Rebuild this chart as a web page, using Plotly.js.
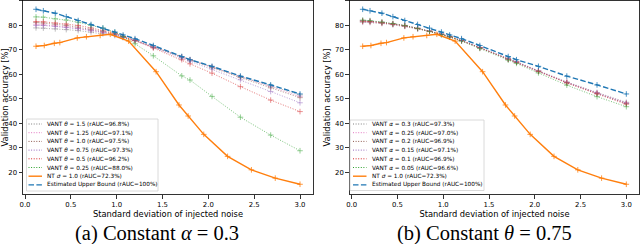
<!DOCTYPE html>
<html>
<head>
<meta charset="utf-8">
<script src="https://cdn.plot.ly/plotly-3.0.1.min.js"></script>
<style>html,body{margin:0;padding:0;background:#fff;}#chart{width:640px;height:244px;}</style>
</head>
<body>
<div id="chart"></div>
<script>
// ---------------- data ----------------
const xTicks = [0.0, 0.5, 1.0, 1.5, 2.0, 2.5, 3.0];
const xTickText = ['0.0', '0.5', '1.0', '1.5', '2.0', '2.5', '3.0'];
const yTicks = [20, 30, 40, 50, 60, 70, 80, 90];

const xVant = [0.12, 0.2, 0.33, 0.45, 0.58, 0.72, 0.85, 0.98, 1.07, 1.2, 1.4, 1.71, 1.8, 2.04, 2.35, 2.68, 3.0];
const xNT = [0.12, 0.21, 0.32, 0.38, 0.57, 0.67, 0.82, 0.93, 1.13, 1.43, 1.68, 1.78, 1.95, 2.21, 2.47, 2.73, 3.0];

const upperBound = [86.6, 86.0, 85.0, 83.6, 82.0, 80.4, 78.9, 77.3, 76.1, 74.6, 71.8, 67.3, 66.0, 63.3, 59.3, 55.7, 52.0];
const ntSigma1 = [71.5, 71.8, 72.7, 73.0, 74.9, 75.4, 75.9, 76.4, 73.6, 61.1, 47.5, 43.0, 35.5, 26.5, 21.0, 17.6, 15.1];

// (a) constant alpha = 0.3, varying theta
const theta150 = [79.0, 78.9, 78.6, 78.3, 77.9, 77.3, 76.6, 75.9, 75.0, 73.8, 71.2, 67.2, 66.0, 63.1, 59.1, 55.3, 51.6];
const theta125 = [80.5, 80.3, 79.9, 79.4, 78.8, 78.0, 77.2, 76.3, 75.3, 74.0, 71.3, 67.1, 66.0, 63.0, 59.0, 55.0, 51.0];
const theta100 = [81.2, 81.0, 80.5, 80.0, 79.3, 78.4, 77.5, 76.5, 75.4, 74.0, 71.2, 67.0, 65.8, 62.8, 58.7, 54.5, 50.5];
const theta075 = [80.0, 80.0, 79.6, 79.2, 78.7, 78.0, 77.2, 76.2, 75.2, 73.8, 71.0, 66.6, 65.4, 62.2, 57.8, 53.0, 48.4];
const theta050 = [81.6, 81.5, 81.0, 80.6, 80.0, 79.0, 78.0, 76.8, 75.5, 73.8, 70.8, 66.0, 64.3, 60.5, 55.0, 49.5, 44.8];
const theta025 = [83.5, 83.4, 82.7, 82.2, 81.3, 80.0, 78.9, 77.2, 75.5, 72.5, 67.6, 59.4, 57.7, 51.0, 42.5, 35.2, 28.8];

// (b) constant theta = 0.75, varying alpha
const alpha030 = [81.3, 81.2, 80.8, 80.3, 79.6, 78.6, 77.5, 76.3, 75.3, 73.8, 71.0, 66.4, 65.2, 61.5, 56.9, 52.6, 48.6];
const alpha025 = [81.5, 81.4, 81.0, 80.4, 79.7, 78.7, 77.6, 76.4, 75.3, 73.8, 70.9, 66.3, 65.1, 61.4, 56.8, 52.5, 48.4];
const alpha020 = [81.8, 81.7, 81.2, 80.6, 79.8, 78.8, 77.7, 76.4, 75.4, 73.8, 70.9, 66.3, 65.0, 61.3, 56.6, 52.2, 48.1];
const alpha015 = [82.0, 81.8, 81.3, 80.7, 80.0, 78.9, 77.8, 76.5, 75.5, 73.9, 71.0, 66.3, 65.1, 61.3, 56.7, 52.3, 48.2];
const alpha010 = [81.8, 81.6, 81.1, 80.6, 79.9, 78.8, 77.7, 76.4, 75.4, 73.8, 70.9, 66.2, 65.0, 61.2, 56.5, 52.0, 47.8];
const alpha005 = [82.2, 82.0, 81.4, 80.8, 80.0, 78.8, 77.6, 76.2, 75.3, 73.6, 70.6, 65.8, 64.5, 60.6, 55.6, 50.9, 46.8];

const thetaLabels = ['VANT <i>θ</i> = 1.5 (rAUC=96.8%)', 'VANT <i>θ</i> = 1.25 (rAUC=97.1%)', 'VANT <i>θ</i> = 1.0 (rAUC=97.5%)',
  'VANT <i>θ</i> = 0.75 (rAUC=97.3%)', 'VANT <i>θ</i> = 0.5 (rAUC=96.2%)', 'VANT <i>θ</i> = 0.25 (rAUC=88.0%)'];
const alphaLabels = ['VANT <i>α</i> = 0.3 (rAUC=97.3%)', 'VANT <i>α</i> = 0.25 (rAUC=97.0%)', 'VANT <i>α</i> = 0.2 (rAUC=96.9%)',
  'VANT <i>α</i> = 0.15 (rAUC=97.1%)', 'VANT <i>α</i> = 0.1 (rAUC=96.9%)', 'VANT <i>α</i> = 0.05 (rAUC=96.6%)'];
const ntLabel = 'NT <i>σ</i> = 1.0 (rAUC=72.3%)';
const ubLabel = 'Estimated Upper Bound (rAUC=100%)';

// ---------------- styling ----------------
const vantColors = ['#7f7f7f', '#e377c2', '#8c564b', '#9467bd', '#d62728', '#2ca02c'];
const ntColor = '#ff7f0e';
const ubColor = '#1f77b4';
const DOT = '1px,1.6px';
const DASH = '5.5px,2.4px';
const W = 640, H = 244;
const px = v => v / W;
const py = v => 1 - v / H;

const panels = [
  {xa: 'x', ya: 'y', vant: [theta150, theta125, theta100, theta075, theta050, theta025], labels: thetaLabels,
   legBox: [26.5, 119, 158, 191], sample: [28.5, 42], textX: 45},
  {xa: 'x2', ya: 'y2', vant: [alpha030, alpha025, alpha020, alpha015, alpha010, alpha005], labels: alphaLabels,
   legBox: [350, 120, 484, 190.5], sample: [353, 366.5], textX: 370}
];

const traces = [];
const shapes = [];
const annotations = [];

panels.forEach(p => {
  p.vant.forEach((ys, i) => {
    traces.push({x: xVant, y: ys, xaxis: p.xa, yaxis: p.ya, type: 'scatter', mode: 'lines+markers',
      opacity: 0.7, showlegend: false,
      line: {color: vantColors[i], width: 0.9, dash: DOT},
      marker: {symbol: 'cross-thin', size: 4, line: {width: 0.7, color: vantColors[i]}, color: vantColors[i]}});
  });
  traces.push({x: xNT, y: ntSigma1, xaxis: p.xa, yaxis: p.ya, type: 'scatter', mode: 'lines+markers', showlegend: false,
    line: {color: ntColor, width: 1.4},
    marker: {symbol: 'cross-thin', size: 4, line: {width: 0.8, color: ntColor}, color: ntColor}});
  traces.push({x: xVant, y: upperBound, xaxis: p.xa, yaxis: p.ya, type: 'scatter', mode: 'lines+markers', showlegend: false,
    line: {color: ubColor, width: 1.4, dash: DASH},
    marker: {symbol: 'cross-thin', size: 4, line: {width: 0.8, color: ubColor}, color: ubColor}});

  // manual compact legend
  const b = p.legBox;
  shapes.push({type: 'rect', xref: 'paper', yref: 'paper', x0: px(b[0]), x1: px(b[2]), y0: py(b[3]), y1: py(b[1]),
    line: {color: '#d0d0d0', width: 0.8}, fillcolor: 'rgba(255,255,255,0.85)', layer: 'above'});
  const entries = p.labels.map((t, i) => ({text: t, color: vantColors[i], width: 1, dash: DOT}))
    .concat([{text: ntLabel, color: ntColor, width: 1.4, dash: 'solid'},
             {text: ubLabel, color: ubColor, width: 1.4, dash: DASH}]);
  entries.forEach((e, i) => {
    const yc = 124 + i * 8.7;
    shapes.push({type: 'line', xref: 'paper', yref: 'paper', x0: px(p.sample[0]), x1: px(p.sample[1]), y0: py(yc), y1: py(yc),
      line: {color: e.color, width: e.width, dash: e.dash}, layer: 'above'});
    annotations.push({xref: 'paper', yref: 'paper', x: px(p.textX), y: py(yc), xanchor: 'left', yanchor: 'middle',
      text: e.text, showarrow: false, font: {family: 'DejaVu Sans', size: 5.75, color: '#000'}});
  });
});

annotations.push({xref: 'paper', yref: 'paper', x: px(157), y: py(233), xanchor: 'center', yanchor: 'middle',
  text: '(a) Constant <i>α</i> = 0.3', showarrow: false, font: {family: 'Liberation Serif', size: 20.5, color: '#000'}});
annotations.push({xref: 'paper', yref: 'paper', x: px(484), y: py(233), xanchor: 'center', yanchor: 'middle',
  text: '(b) Constant <i>θ</i> = 0.75', showarrow: false, font: {family: 'Liberation Serif', size: 20.5, color: '#000'}});

function xAxis(domain, anchor) {
  return {domain: domain, anchor: anchor, range: [-0.024, 3.144], tickvals: xTicks, ticktext: xTickText,
    ticks: 'outside', ticklen: 3.5, tickwidth: 0.8, tickcolor: '#000', showline: true, mirror: true,
    linecolor: '#000', linewidth: 0.8, showgrid: false, zeroline: false, ticklabelstandoff: -2.5,
    tickfont: {family: 'DejaVu Sans', size: 6.9, color: '#000'},
    title: {text: 'Standard deviation of injected noise', font: {family: 'DejaVu Sans', size: 8.3, color: '#000'}, standoff: 0}};
}
function yAxis(anchor) {
  return {domain: [0.2037, 0.998], anchor: anchor, range: [11.0, 90.2], tickvals: yTicks,
    ticks: 'outside', ticklen: 3.5, tickwidth: 0.8, tickcolor: '#000', showline: true, mirror: true,
    linecolor: '#000', linewidth: 0.8, showgrid: false, zeroline: false,
    tickfont: {family: 'DejaVu Sans', size: 6.9, color: '#000'},
    title: {text: 'Validation accuracy [%]', font: {family: 'DejaVu Sans', size: 8.3, color: '#000'}, standoff: 3}};
}

const layout = {
  width: W, height: H, margin: {l: 0, r: 0, t: 0, b: 0}, showlegend: false,
  paper_bgcolor: '#fff', plot_bgcolor: '#fff',
  xaxis: xAxis([px(22.8), px(313.2)], 'y'),
  yaxis: yAxis('x'),
  xaxis2: xAxis([px(349.5), px(639.5)], 'y2'),
  yaxis2: yAxis('x2'),
  shapes: shapes, annotations: annotations
};

Plotly.newPlot('chart', traces, layout, {displayModeBar: false, staticPlot: true});
</script>
</body>
</html>
